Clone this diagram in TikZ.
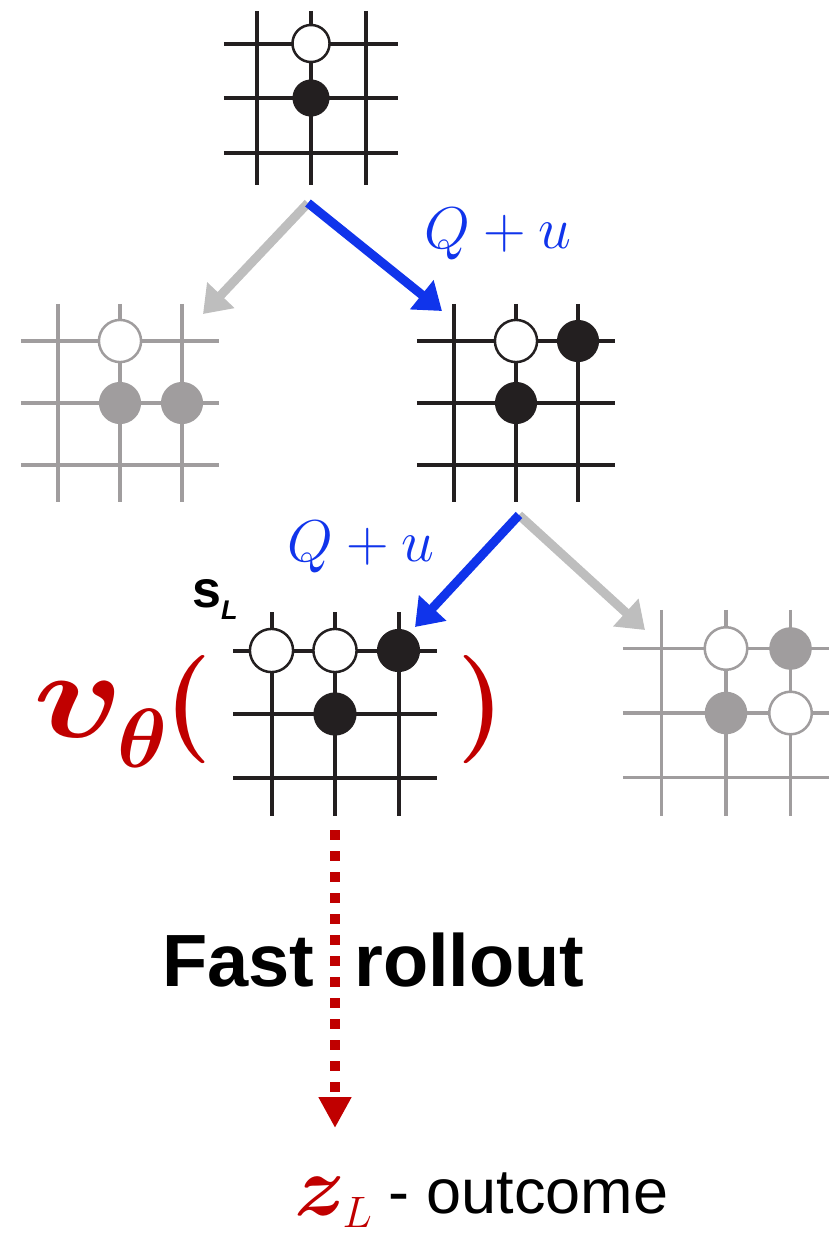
\RequirePackage{fix-cm}
\documentclass[tikz,border=0pt]{standalone}
\usepackage{amsmath}
\usepackage{graphicx}
\usepackage{fontspec}
\setsansfont{Liberation Sans}
\usetikzlibrary{arrows.meta}

\definecolor{boardblack}{RGB}{35,31,32}
\definecolor{boardgrey}{RGB}{160,157,158}
\definecolor{pathblue}{RGB}{16,52,235}
\definecolor{pathgrey}{RGB}{190,190,190}
\definecolor{valuered}{RGB}{192,0,0}

\tikzset{
  grid line/.style={line width=4pt},
  white stone/.style={fill=white, draw, line width=2.5pt},
  black stone/.style={fill},
  move arrow/.style={line width=9pt, -{Triangle[width=36pt,length=26pt]}},
  qu label/.style={text=pathblue, inner sep=0pt, font=\fontsize{59}{60}\selectfont},
  red label/.style={text=valuered, inner sep=0pt},
}

\begin{document}
\begin{tikzpicture}[x=1pt, y=-1pt]
\useasboundingbox (0,0) rectangle (834,1234);

% Root position
\begin{scope}[shift={(311,98)}, scale=54.5, boardblack]
  \foreach \i in {-1,0,1} {
    \draw[grid line] (-1.6,\i) -- (1.6,\i);
    \draw[grid line] (\i,-1.6) -- (\i,1.6);
  }
  \filldraw[white stone] (0,-1) circle (0.34);
  \fill[black stone] (0,0) circle (0.34);
\end{scope}

% Left child (not chosen)
\begin{scope}[shift={(120,403)}, scale=62, boardgrey]
  \foreach \i in {-1,0,1} {
    \draw[grid line, line width=3.5pt] (-1.6,\i) -- (1.6,\i);
    \draw[grid line, line width=3.5pt] (\i,-1.6) -- (\i,1.6);
  }
  \filldraw[white stone] (0,-1) circle (0.34);
  \fill[black stone] (0,0) circle (0.34);
  \fill[black stone] (1,0) circle (0.34);
\end{scope}

% Right child (selected)
\begin{scope}[shift={(516,403)}, scale=62, boardblack]
  \foreach \i in {-1,0,1} {
    \draw[grid line] (-1.6,\i) -- (1.6,\i);
    \draw[grid line] (\i,-1.6) -- (\i,1.6);
  }
  \filldraw[white stone] (0,-1) circle (0.34);
  \fill[black stone] (1,-1) circle (0.34);
  \fill[black stone] (0,0) circle (0.34);
\end{scope}

% Leaf s_L
\begin{scope}[shift={(335,714)}, scale=63.5, boardblack]
  \foreach \i in {-1,0,1} {
    \draw[grid line] (-1.6,\i) -- (1.6,\i);
    \draw[grid line] (\i,-1.6) -- (\i,1.6);
  }
  \filldraw[white stone] (-1,-1) circle (0.34);
  \filldraw[white stone] (0,-1) circle (0.34);
  \fill[black stone] (1,-1) circle (0.34);
  \fill[black stone] (0,0) circle (0.34);
\end{scope}

% Other leaf (not chosen)
\begin{scope}[shift={(726,713)}, scale=64.5, boardgrey]
  \foreach \i in {-1,0,1} {
    \draw[grid line, line width=3.5pt] (-1.6,\i) -- (1.6,\i);
    \draw[grid line, line width=3.5pt] (\i,-1.6) -- (\i,1.6);
  }
  \filldraw[white stone] (0,-1) circle (0.33);
  \fill[black stone] (1,-1) circle (0.33);
  \fill[black stone] (0,0) circle (0.33);
  \filldraw[white stone] (1,0) circle (0.33);
\end{scope}

% Tree edges
\coordinate (root fork) at (308,203);
\coordinate (left child) at (203,314);
\coordinate (right child) at (442,311);
\coordinate (mid fork) at (519,515);
\coordinate (leaf) at (415,627);
\coordinate (other leaf) at (645,630);

\draw[move arrow, pathgrey] (root fork) -- (left child);
\draw[move arrow, pathblue] (root fork) -- (right child);
\draw[move arrow, pathgrey] (mid fork) -- (other leaf);
\draw[move arrow, pathblue] (mid fork) -- (leaf);

% Selection labels
\node[qu label, anchor=base] (qu top) at (498,248) {$Q+u$};
\node[qu label, anchor=base] (qu mid) at (361,561) {$Q+u$};

% Leaf state and value
\node[anchor=base west, inner sep=0pt] (sL) at (192,607)
  {\sffamily\bfseries\fontsize{52}{52}\selectfont s\raisebox{-12pt}{\fontsize{27}{27}\selectfont\itshape L}};
\node[red label, anchor=base west, font=\fontsize{125}{130}\selectfont] (vtheta) at (33,737)
  {\scalebox{1.2}[1]{$\boldsymbol{v}$}\hspace{-6pt}\raisebox{-30pt}{\fontsize{84}{84}\selectfont$\boldsymbol{\theta}$}};
\node[red label, anchor=base west, font=\bfseries\fontsize{108}{110}\selectfont] (lparen) at (164,736) {(};
\node[red label, anchor=base west, font=\bfseries\fontsize{108}{110}\selectfont] (rparen) at (457,736) {)};

% Rollout
\coordinate (rollout start) at (335,830);
\coordinate (rollout end) at (335,1128);
\draw[valuered, line width=10pt, dash pattern=on 10pt off 11pt,
  -{Triangle[width=31pt,length=31pt]}] (rollout start) -- (rollout end);

\node[anchor=base west, inner sep=0pt, font=\sffamily\bfseries\fontsize{74}{74}\selectfont] (fast)
  at (162,986) {Fast\hspace{40pt}rollout};

% Outcome
\node[red label, anchor=base west, font=\fontsize{86}{90}\selectfont] (zL) at (294,1215)
  {$\boldsymbol{z}$\hspace{-3pt}\raisebox{-12pt}{\fontsize{44}{44}\selectfont$L$}};
\node[anchor=base west, inner sep=0pt, font=\sffamily\fontsize{63}{63}\selectfont] (outcome)
  at (388,1213) {- outcome};

\end{tikzpicture}
\end{document}
